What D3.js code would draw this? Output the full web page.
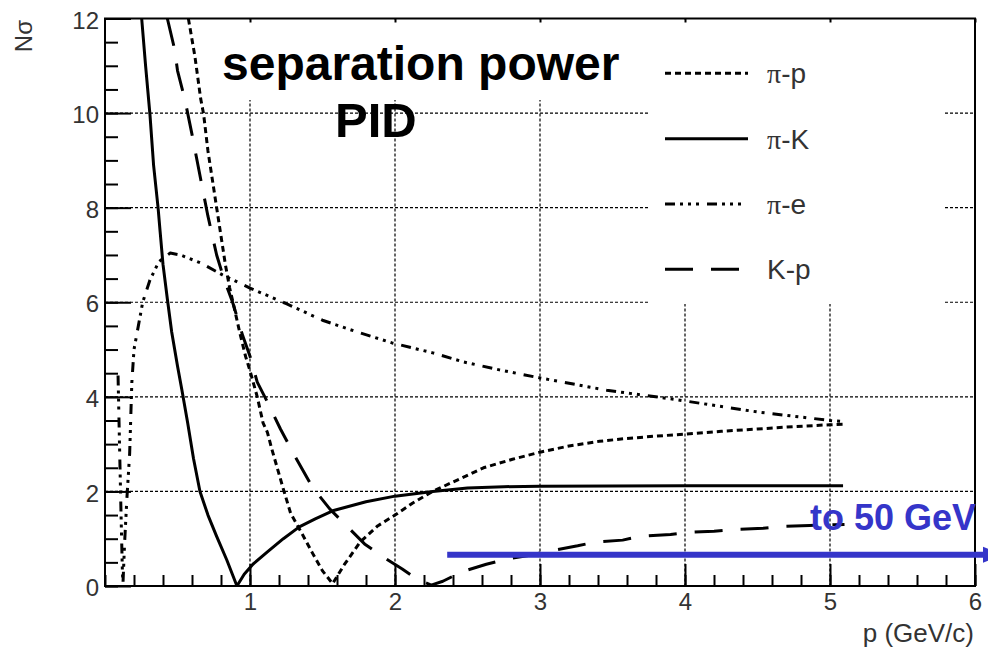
<!DOCTYPE html>
<html>
<head>
<meta charset="utf-8">
<script src="https://cdn.jsdelivr.net/npm/d3@7"></script>
<style>
  html, body { margin: 0; padding: 0; background: #fff; }
  svg { display: block; }
  text { font-family: "Liberation Sans", Arial, Helvetica, sans-serif; }
</style>
</head>
<body>
<svg id="chart" width="988" height="654"></svg>
<script>
// Separation power (N sigma) vs momentum p (GeV/c) for particle pairs

// pi - p
const piP_p = [0.575, 0.62, 0.66, 0.68, 0.71, 0.745, 0.77, 0.80, 0.83, 0.86, 0.89, 0.93, 0.97, 1.0, 1.05, 1.09, 1.12, 1.15, 1.23, 1.28, 1.36, 1.43, 1.50, 1.57,
               1.65, 1.76, 1.88, 2.0, 2.12, 2.26, 2.45, 2.61, 2.81, 3.0, 3.2, 3.41, 3.6, 3.8, 4.0, 4.25, 4.5, 4.75, 5.0, 5.09];
const piP_n = [12.0, 11.2, 10.3, 9.98, 9.2, 8.5, 8.0, 7.4, 6.8, 6.3, 5.9, 5.35, 4.85, 4.55, 4.0, 3.45, 3.25, 2.9, 2.05, 1.54, 1.1, 0.70, 0.32, 0.05,
               0.45, 0.93, 1.27, 1.5, 1.75, 2.0, 2.27, 2.5, 2.68, 2.83, 2.96, 3.06, 3.12, 3.17, 3.21, 3.27, 3.32, 3.37, 3.41, 3.42];

// pi - K
const piK_p = [0.253, 0.28, 0.31, 0.335, 0.366, 0.38, 0.40, 0.43, 0.46, 0.50, 0.53, 0.57, 0.61, 0.655, 0.71, 0.77, 0.84, 0.91,
               0.96, 1.02, 1.12, 1.23, 1.34, 1.45, 1.57, 1.8, 2.0, 2.26, 2.5, 2.75, 3.0, 4.0, 5.09];
const piK_n = [12.0, 11.0, 9.97, 8.9, 8.0, 7.5, 6.8, 6.07, 5.37, 4.65, 4.15, 3.45, 2.7, 2.0, 1.5, 1.05, 0.55, 0.0,
               0.25, 0.46, 0.72, 1.0, 1.25, 1.42, 1.59, 1.78, 1.9, 2.0, 2.07, 2.1, 2.11, 2.12, 2.12];

// pi - e
const piE_p = [0.09, 0.10, 0.11, 0.12, 0.124, 0.135, 0.15, 0.17, 0.185, 0.20, 0.23, 0.26, 0.31, 0.37, 0.40, 0.45, 0.52, 0.66, 0.81, 1.0,
               1.25, 1.5, 1.74, 1.98, 2.26, 2.47, 2.72, 3.0, 3.46, 3.92, 4.5, 5.0, 5.08];
const piE_n = [4.45, 3.0, 1.6, 0.3, 0.05, 0.9, 1.8, 2.8, 4.3, 5.0, 5.5, 6.0, 6.47, 6.85, 6.93, 7.04, 7.0, 6.83, 6.58, 6.3,
               5.97, 5.62, 5.37, 5.14, 4.93, 4.74, 4.57, 4.4, 4.14, 3.95, 3.68, 3.5, 3.48];

// K - p
const kP_p = [0.43, 0.48, 0.50, 0.55, 0.60, 0.66, 0.71, 0.77, 0.82, 0.88, 0.95, 1.0, 1.05, 1.12, 1.21, 1.30, 1.43, 1.55, 1.64, 1.79, 1.90, 2.05, 2.15, 2.25,
              2.33, 2.46, 2.63, 2.77, 2.91, 3.07, 3.26, 3.38, 3.57, 3.69, 3.9, 4.0, 4.2, 4.36, 4.54, 4.67, 4.86, 5.1];
const kP_n = [12.0, 11.35, 10.9, 10.3, 9.55, 8.6, 7.82, 7.0, 6.5, 6.0, 5.29, 4.86, 4.31, 3.89, 3.32, 2.8, 2.09, 1.63, 1.35, 0.89, 0.65, 0.36, 0.15, 0.02,
              0.1, 0.3, 0.46, 0.57, 0.64, 0.74, 0.85, 0.93, 0.97, 1.05, 1.09, 1.13, 1.16, 1.2, 1.22, 1.26, 1.28, 1.3];

// Legend and axes
const legendLabels = ["π-p", "π-K", "π-e", "K-p"];
const xTickValues = [1, 2, 3, 4, 5, 6];
const yTickValues = [0, 2, 4, 6, 8, 10, 12];
const xTitle = "p (GeV/c)";
const yTitle = "Nσ";
const titleLines = ["separation power", "PID"];
const noteText = "to 50 GeV";
const noteArrowFromP = 2.36;
const noteArrowN = 0.66;

const svg = d3.select("#chart");
const W = 988, H = 654;
const plotL = 105, plotR = 975, plotT = 18.5, plotB = 586;

const x = d3.scaleLinear().domain([0, 6]).range([plotL, plotR]);
const y = d3.scaleLinear().domain([0, 12]).range([plotB, plotT]);

svg.append("rect").attr("width", W).attr("height", H).attr("fill", "#fff");

svg.append("defs").append("clipPath").attr("id", "plotClip")
  .append("rect").attr("x", plotL).attr("y", plotT).attr("width", plotR - plotL).attr("height", plotB - plotT);

// Grid
const grid = svg.append("g").attr("stroke", "#000").attr("stroke-width", 1.2).attr("stroke-dasharray", "3,2");
[1, 2, 3, 4, 5].forEach(v => {
  grid.append("line").attr("x1", x(v)).attr("x2", x(v)).attr("y1", plotT).attr("y2", plotB);
});
[2, 4, 6, 8, 10].forEach(v => {
  grid.append("line").attr("x1", plotL).attr("x2", plotR).attr("y1", y(v)).attr("y2", y(v));
});

// White panes behind the title and the legend
svg.append("rect").attr("x", 212).attr("y", plotT + 1).attr("width", 415).attr("height", 100 - plotT - 1).attr("fill", "#fff");
svg.append("rect").attr("x", 648).attr("y", plotT + 1).attr("width", 297).attr("height", 304 - plotT - 1).attr("fill", "#fff");

// Curves
const series = [
  { p: piP_p, n: piP_n, dash: "6,4" },
  { p: piK_p, n: piK_n, dash: null },
  { p: piE_p, n: piE_n, dash: "10,5,3,5,3,5,3,8" },
  { p: kP_p, n: kP_n, dash: "28,18" }
];
const line = d3.line().x(d => x(d[0])).y(d => y(d[1])).curve(d3.curveLinear);
const curves = svg.append("g").attr("clip-path", "url(#plotClip)");
series.forEach(s => {
  const pts = s.p.map((p, i) => [p, s.n[i]]);
  curves.append("path").datum(pts)
    .attr("d", line)
    .attr("fill", "none")
    .attr("stroke", "#000")
    .attr("stroke-width", 3)
    .attr("stroke-linejoin", "round")
    .attr("stroke-dasharray", s.dash);
});

// Axes with inward ticks
const xAxis = svg.append("g").attr("transform", `translate(0,${plotB})`)
  .call(d3.axisBottom(x).tickValues(xTickValues).tickSize(-22).tickPadding(7).tickFormat(d3.format("d")));
const xMinor = svg.append("g").attr("transform", `translate(0,${plotB})`)
  .call(d3.axisBottom(x).tickValues(d3.range(0, 6.01, 0.2)).tickSize(-11).tickFormat(""));
const yAxis = svg.append("g").attr("transform", `translate(${plotL},0)`)
  .call(d3.axisLeft(y).tickValues(yTickValues).tickSize(-26).tickPadding(6).tickFormat(d3.format("d")));
const yMinor = svg.append("g").attr("transform", `translate(${plotL},0)`)
  .call(d3.axisLeft(y).tickValues(d3.range(0, 12.01, 0.5)).tickSize(-13).tickFormat(""));
const xTop = svg.append("g").attr("transform", `translate(0,${plotT})`)
  .call(d3.axisTop(x).tickValues(xTickValues).tickSize(-4).tickFormat(""));

[xAxis, xMinor, yAxis, yMinor, xTop].forEach(g => {
  g.select(".domain").remove();
  g.selectAll(".tick line").attr("stroke", "#000").attr("stroke-width", 2);
  g.selectAll("text").attr("font-family", "Liberation Sans, Arial, sans-serif")
    .attr("font-size", 24).attr("fill", "#333");
});
yAxis.selectAll("text").attr("dy", "0.40em");

// Frame
svg.append("rect").attr("x", plotL).attr("y", plotT).attr("width", plotR - plotL).attr("height", plotB - plotT)
  .attr("fill", "none").attr("stroke", "#000").attr("stroke-width", 2);

// Axis titles
svg.append("text").attr("x", 974).attr("y", 642).attr("text-anchor", "end")
  .attr("font-size", 26).attr("fill", "#333").text(xTitle);
svg.append("text").attr("transform", "translate(32,20) rotate(-90)").attr("text-anchor", "end")
  .attr("font-size", 24).attr("fill", "#333").text(yTitle);

// Title
svg.append("text").attr("x", 222).attr("y", 80).attr("font-size", 48).attr("font-weight", "bold")
  .attr("fill", "#000").text(titleLines[0]);
svg.append("text").attr("x", 335).attr("y", 137).attr("font-size", 49).attr("font-weight", "bold")
  .attr("fill", "#000").text(titleLines[1]);

// Legend
const legendY = d3.scalePoint().domain(legendLabels).range([73.3, 269.3]);
const legend = svg.append("g");
legendLabels.forEach((lab, i) => {
  const ly = legendY(lab);
  legend.append("line").attr("x1", 665).attr("x2", 748).attr("y1", ly).attr("y2", ly)
    .attr("stroke", "#000").attr("stroke-width", 3).attr("stroke-dasharray", series[i].dash);
  const t = legend.append("text").attr("x", 767).attr("y", ly + 10).attr("font-size", 28).attr("fill", "#333");
  const parts = lab.split("-");
  t.append("tspan").attr("font-family", lab.startsWith("π") ? "Liberation Serif, serif" : null).text(parts[0]);
  t.append("tspan").text("-" + parts[1]);
});

// Annotation: range extends to 50 GeV
const blue = "#3535c9";
const ay = y(noteArrowN);
svg.append("line").attr("x1", x(noteArrowFromP)).attr("x2", 985).attr("y1", ay).attr("y2", ay)
  .attr("stroke", blue).attr("stroke-width", 6);
svg.append("path").attr("d", `M983,${ay - 8}L1003,${ay}L983,${ay + 8}Z`).attr("fill", blue);
svg.append("text").attr("x", 810).attr("y", 530).attr("font-size", 36).attr("font-weight", "bold")
  .attr("fill", blue).text(noteText);
</script>
</body>
</html>
